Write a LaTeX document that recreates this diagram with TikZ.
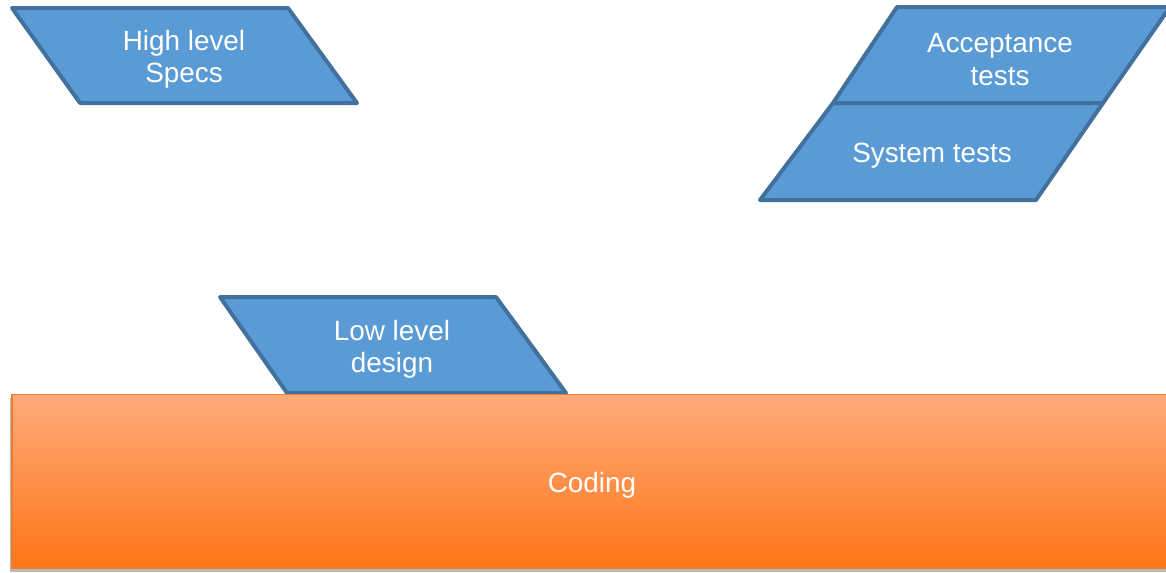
\documentclass[tikz,border=0pt]{standalone}
\usepackage{fontspec}
\setmainfont{Liberation Sans}
\begin{document}
\begin{tikzpicture}[x=0.75pt,y=-0.75pt,
  blueshape/.style={fill={rgb,255:red,91;green,155;blue,213},
                    draw={rgb,255:red,65;green,113;blue,156},
                    line width=3pt, line join=round},
  label/.style={text=white, align=center,
                font=\fontsize{20.9}{24.2}\selectfont},
  codebox/.style={top color={rgb,255:red,254;green,170;blue,122},
                  bottom color={rgb,255:red,255;green,117;blue,24},
                  draw={rgb,255:red,237;green,125;blue,49}, line width=1.2pt}]
  \useasboundingbox (0,0) rectangle (1166,572);

  % High level specs
  \draw[blueshape] (12,8) -- (288,8) -- (357,103) -- (80,103) -- cycle;
  \node[label] (hls) at (184,59.5) {High level\\Specs};

  % System tests and acceptance tests (stacked)
  \draw[blueshape] (833,103) -- (1103,103) -- (1036,200) -- (760,200) -- cycle;
  \node[label] (sys) at (932,155.5) {System tests};
  \draw[blueshape] (897,7) -- (1170,7) -- (1103,103) -- (833,103) -- cycle;
  \node[label] (acc) at (1000,59.5) {Acceptance\\tests};

  % Low level design
  \draw[blueshape] (220,297) -- (496,297) -- (566,393) -- (287,393) -- cycle;
  \node[label] (lld) at (392,349.5) {Low level\\design};

  % Coding block with soft shadow
  \fill[gray!55] (10,398) rectangle (1175,572);
  \draw[codebox] (12,394.5) rectangle (1175,568);
  \node[label] (cod) at (592,485.5) {Coding};
\end{tikzpicture}
\end{document}
